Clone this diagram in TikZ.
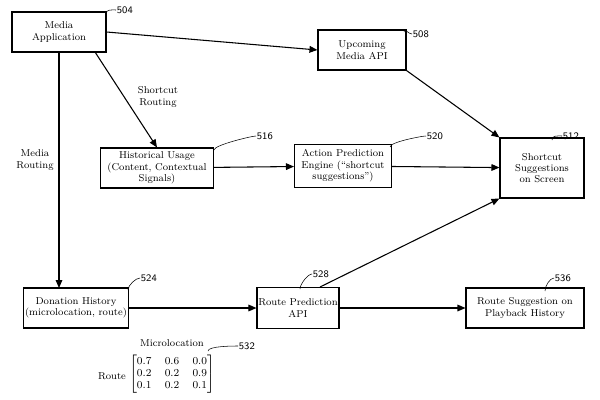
\documentclass[tikz,border=0pt]{standalone}
\usepackage{amsmath}
\usetikzlibrary{arrows.meta}
\begin{document}
\begin{tikzpicture}[x=0.75pt,y=-0.75pt,
 box/.style={draw,thick,align=center,inner sep=1pt,font=\fontsize{7.5}{8.5}\selectfont},
 lbl/.style={font=\sffamily\fontsize{7.5}{8.5}\selectfont,anchor=west,inner sep=0.5pt},
 arr/.style={thick,-{Triangle[length=6pt,width=5pt]}},
 txt/.style={font=\fontsize{7.5}{8.5}\selectfont,align=center}]
\useasboundingbox (0,0) rectangle (600,400);
\node[box,minimum width=94pt*0.75,minimum height=40pt*0.75] (ma) at (59,32) {Media\\Application};
\node[box,minimum width=88pt*0.75,minimum height=40pt*0.75] (up) at (362,50) {Upcoming\\Media API};
\node[box,minimum width=113pt*0.75,minimum height=40pt*0.75] (hu) at (157,168) {Historical Usage\\(Content, Contextual\\Signals)};
\node[box,minimum width=97pt*0.75,minimum height=43pt*0.75] (ap) at (343,166) {Action Prediction\\Engine (``shortcut\\suggestions'')};
\node[box,minimum width=84pt*0.75,minimum height=60pt*0.75] (ss) at (542,168) {Shortcut\\Suggestions\\on Screen};
\node[box,minimum width=103pt*0.75,minimum height=40pt*0.75] (dh) at (76,308) {Donation History\\(microlocation, route)};
\node[box,minimum width=82pt*0.75,minimum height=41pt*0.75] (rp) at (298,308) {Route Prediction\\API};
\node[box,minimum width=118pt*0.75,minimum height=40pt*0.75] (rs) at (525,308) {Route Suggestion on\\Playback History};
\coordinate (mab) at (59,52);
\coordinate (mas) at (95,52);
\coordinate (dht) at (59,288);
\coordinate (rpt) at (320,287);
\draw[arr] (ma.east) -- (up.west);
\draw[arr] (mab) -- (dht);
\draw[arr] (mas) -- (hu.north);
\draw[arr] (up.south east) -- (ss.north west);
\draw[arr] (hu) -- (ap);
\draw[arr] (ap) -- (ss);
\draw[arr] (rpt) -- (ss.south west);
\draw[arr] (dh) -- (rp);
\draw[arr] (rp) -- (rs);
\node[txt] (t1) at (158,97) {Shortcut\\Routing};
\node[txt] (t2) at (35,160) {Media\\Routing};
\foreach \n/\x/\y/\bx/\by in {504/116/10/106/14, 508/412/34/404/32, 516/256/136/214/150, 520/426/136/390/147, 512/562/136/552/140, 524/140/278/128/290, 528/312/274/300/289, 536/554/278/545/291, 532/238/346/208/351}{
 \node[lbl] (L\n) at (\x,\y) {\n};
 \draw (L\n.west) .. controls +(-4,0) and +(0,-5) .. (\bx,\by);
}
\node[txt] (mic) at (172,343) {Microlocation};
\node[txt] (rt) at (112,376) {Route};
\node[txt,font=\fontsize{8}{9}\selectfont] (mx) at (172,374) {$\left[\begin{array}{@{}ccc@{}}0.7&0.6&0.0\\0.2&0.2&0.9\\0.1&0.2&0.1\end{array}\right]$};
\end{tikzpicture}
\end{document}
